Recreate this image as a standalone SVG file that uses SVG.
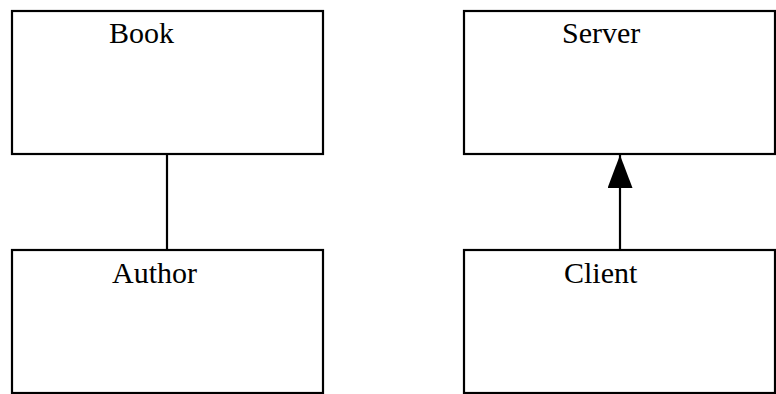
<svg xmlns="http://www.w3.org/2000/svg" width="776" height="394" viewBox="0 0 776 394">
<style>
.box{fill:#fff;stroke:#000;stroke-width:2.2}
.lbl{font-family:"Liberation Serif","Times New Roman",serif;font-size:30px;fill:#000}
.conn{stroke:#000;stroke-width:2.2;fill:none}
</style>
<defs>
<marker id="tri" markerUnits="userSpaceOnUse" markerWidth="33" markerHeight="25" refX="33" refY="12.5" orient="auto" viewBox="0 0 33 25">
<path d="M0,0 L33,12.5 L0,25 Z" fill="#000"/>
</marker>
</defs>
<rect width="776" height="394" fill="#fff"/>
<g id="book"><rect class="box" x="12" y="11" width="311" height="143"/><text class="lbl" x="109" y="43">Book</text></g>
<g id="author"><rect class="box" x="12" y="250" width="311" height="143"/><text class="lbl" x="112" y="283">Author</text></g>
<g id="server"><rect class="box" x="464" y="11" width="311" height="143"/><text class="lbl" x="562" y="43">Server</text></g>
<g id="client"><rect class="box" x="464" y="250" width="311" height="143"/><text class="lbl" x="564" y="283">Client</text></g>
<g id="connectors">
<line class="conn" x1="167" y1="155" x2="167" y2="249"/>
<line class="conn" x1="620" y1="249" x2="620" y2="155" marker-end="url(#tri)"/>
</g>
</svg>
